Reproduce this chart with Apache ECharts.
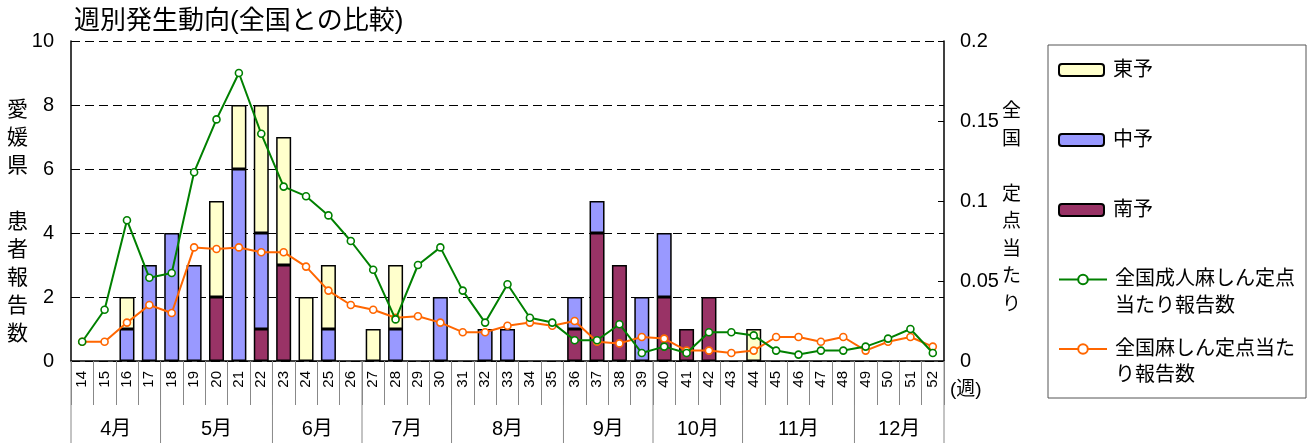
<!DOCTYPE html>
<html>
<head>
<meta charset="utf-8">
<script src="https://cdn.jsdelivr.net/npm/echarts@6/dist/echarts.min.js"></script>
<style>
html,body{margin:0;padding:0;background:#fff;}
#chart{width:1313px;height:443px;}
</style>
</head>
<body>
<div id="chart"></div>
<script>
// ---- data ----
const weeks = ['14','15','16','17','18','19','20','21','22','23','24','25','26','27','28','29','30','31','32','33','34','35','36','37','38','39','40','41','42','43','44','45','46','47','48','49','50','51','52'];
const months = ['4月','5月','6月','7月','8月','9月','10月','11月','12月'];
const monthFirstWeek = ['14','18','23','27','31','36','40','44','49'];
const monthLastWeek  = ['17','22','26','30','35','39','43','48','52'];

// 愛媛県 patients per week (weeks 14..52)
const toyo  = [0,0,1,0,0,0,3,2,4,4,2,2,0,1,2,0,0,0,0,0,0,0,0,0,0,0,0,0,0,0,1,0,0,0,0,0,0,0,0];
const chuyo = [0,0,1,3,4,3,0,6,3,0,0,1,0,0,1,0,2,0,1,1,0,0,1,1,0,2,2,0,0,0,0,0,0,0,0,0,0,0,0];
const nanyo = [0,0,0,0,0,0,2,0,1,3,0,0,0,0,0,0,0,0,0,0,0,0,1,4,3,0,2,1,2,0,0,0,0,0,0,0,0,0,0];

// national per-sentinel reports
const adultNational = [0.012,0.032,0.088,0.052,0.055,0.118,0.151,0.180,0.142,0.109,0.103,0.091,0.075,0.057,0.026,0.060,0.071,0.044,0.024,0.048,0.027,0.024,0.013,0.013,0.023,0.005,0.009,0.005,0.018,0.018,0.016,0.0065,0.004,0.0065,0.0065,0.009,0.014,0.020,0.005];
const allNational   = [0.012,0.012,0.024,0.035,0.030,0.071,0.070,0.071,0.068,0.068,0.059,0.044,0.035,0.032,0.027,0.028,0.024,0.018,0.018,0.022,0.024,0.022,0.025,0.012,0.011,0.015,0.014,0.0065,0.0065,0.005,0.0065,0.015,0.015,0.012,0.015,0.0065,0.012,0.015,0.009];

const leftAxisName = ['愛','媛','県','','患','者','報','告','数'];
const rightAxisName = ['全','国','','定','点','当','た','り'];
const legendLabels = {
  '全国成人麻しん定点当たり報告数': ['全国成人麻しん定点', '当たり報告数'],
  '全国麻しん定点当たり報告数': ['全国麻しん定点当た', 'り報告数']
};

const FONT = "'Liberation Sans', 'Noto Sans CJK JP', sans-serif";
const blankZero = arr => arr.map(v => v === 0 ? '-' : v);
const monthData = monthFirstWeek.map((w, i) => [weeks.indexOf(w), 0, weeks.indexOf(monthLastWeek[i])]);
const vertical = chars => '{g| }\n' + chars.map(c => '{c|' + (c || ' ') + '}').join('\n');

const barBase = {
  type: 'bar', stack: 'pref', barWidth: 15, yAxisIndex: 0,
  emphasis: {disabled: true}
};

const chart = echarts.init(document.getElementById('chart'), null, {renderer: 'canvas'});
chart.setOption({
  animation: false,
  textStyle: {fontFamily: FONT, color: '#000'},
  title: {
    text: '週別発生動向(全国との比較)', left: 74, top: 7, padding: 0,
    textStyle: {fontFamily: FONT, fontSize: 26, fontWeight: 'normal', color: '#000', lineHeight: 29}
  },
  grid: {left: 71, right: 369, top: 41, bottom: 82},
  legend: [
    {
      data: ['東予','中予','南予'], orient: 'vertical', left: 1048, top: 45,
      padding: [13, 153, 176, 10], itemWidth: 45, itemHeight: 12, itemGap: 46,
      borderColor: '#555', borderWidth: 1, selectedMode: false,
      textStyle: {fontFamily: FONT, fontSize: 20, lineHeight: 24, color: '#000', padding: [0,0,0,4]}
    },
    {
      data: ['全国成人麻しん定点当たり報告数'], orient: 'vertical', left: 1048, top: 239,
      padding: [0, 0, 0, 10], itemWidth: 48, itemHeight: 12, selectedMode: false,
      formatter: n => '\n' + legendLabels[n].join('\n'),
      textStyle: {fontFamily: FONT, fontSize: 20, lineHeight: 27, color: '#000', padding: [0,0,0,3]}
    },
    {
      data: ['全国麻しん定点当たり報告数'], orient: 'vertical', left: 1048, top: 310,
      padding: [0, 0, 0, 10], itemWidth: 48, itemHeight: 12, selectedMode: false,
      formatter: n => '\n' + legendLabels[n].join('\n'),
      textStyle: {fontFamily: FONT, fontSize: 20, lineHeight: 26, color: '#000', padding: [0,0,0,3]}
    }
  ],
  xAxis: {
    type: 'category', data: weeks, boundaryGap: true,
    name: '{g| }\n{w|(週)}', nameLocation: 'end', nameGap: 6, nameMoveOverlap: false,
    nameTextStyle: {fontFamily: FONT, color: '#000',
      rich: {g: {height: 58, lineHeight: 58, fontSize: 10}, w: {fontSize: 19, lineHeight: 22, fontFamily: FONT}}},
    axisLine: {lineStyle: {color: '#000', width: 1.5}},
    axisTick: {show: true, interval: 0, length: 44, lineStyle: {color: '#888', width: 1}},
    axisLabel: {interval: 0, rotate: 90, margin: 10, fontSize: 15, color: '#000', fontFamily: FONT}
  },
  yAxis: [
    {
      type: 'value', min: 0, max: 10, interval: 2, position: 'left',
      name: vertical(leftAxisName), nameLocation: 'middle', nameRotate: 0, nameGap: 43, nameMoveOverlap: false,
      nameTextStyle: {fontFamily: FONT, color: '#000',
        rich: {g: {height: 42, lineHeight: 42, fontSize: 10}, c: {fontSize: 21, lineHeight: 28, fontFamily: FONT}}},
      axisLine: {show: true, lineStyle: {color: '#000', width: 1.5}},
      axisTick: {show: true, inside: true, length: 6, lineStyle: {color: '#000'}},
      axisLabel: {fontSize: 20, margin: 17, color: '#000', fontFamily: FONT},
      splitLine: {show: true, lineStyle: {color: '#000', width: 1, type: [9, 5]}}
    },
    {
      type: 'value', min: 0, max: 0.2, interval: 0.05, position: 'right',
      name: vertical(rightAxisName), nameLocation: 'middle', nameRotate: 0, nameGap: 58, nameMoveOverlap: false,
      nameTextStyle: {fontFamily: FONT, color: '#000',
        rich: {g: {height: 15, lineHeight: 15, fontSize: 8}, c: {fontSize: 19, lineHeight: 27.5, fontFamily: FONT}}},
      axisLine: {show: true, lineStyle: {color: '#000', width: 1.5}},
      axisTick: {show: true, inside: true, length: 6, lineStyle: {color: '#000'}},
      axisLabel: {fontSize: 20, margin: 16, color: '#000', fontFamily: FONT},
      splitLine: {show: false}
    }
  ],
  series: [
    Object.assign({}, barBase, {name: '南予', data: blankZero(nanyo),
      itemStyle: {color: '#993366', borderColor: '#000', borderWidth: 1.5}}),
    Object.assign({}, barBase, {name: '中予', data: blankZero(chuyo),
      itemStyle: {color: '#9999FF', borderColor: '#000', borderWidth: 1.5}}),
    Object.assign({}, barBase, {name: '東予', data: blankZero(toyo),
      itemStyle: {color: '#FFFFCC', borderColor: '#000', borderWidth: 1.5}}),
    {
      name: '全国麻しん定点当たり報告数', type: 'line', yAxisIndex: 1, data: allNational,
      symbol: 'circle', symbolSize: 7, z: 3,
      lineStyle: {color: '#FF6600', width: 2},
      itemStyle: {color: '#FFFFFF', borderColor: '#FF6600', borderWidth: 1.6},
      emphasis: {disabled: true}
    },
    {
      name: '全国成人麻しん定点当たり報告数', type: 'line', yAxisIndex: 1, data: adultNational,
      symbol: 'circle', symbolSize: 7, z: 4,
      lineStyle: {color: '#008000', width: 2},
      itemStyle: {color: '#FFFFFF', borderColor: '#008000', borderWidth: 1.6},
      emphasis: {disabled: true}
    },
    {
      type: 'custom', name: 'months', data: monthData, encode: {x: 0, y: 1}, clip: false, silent: true,
      renderItem: function (params, api) {
        const p0 = api.coord([api.value(0), 0]);
        const p1 = api.coord([api.value(2), 0]);
        const half = api.size([1, 0])[0] / 2;
        const xL = p0[0] - half, xR = p1[0] + half, y = p0[1];
        const children = [
          {type: 'line', shape: {x1: xR, y1: y, x2: xR, y2: y + 82}, style: {stroke: '#888', lineWidth: 1}},
          {type: 'text', x: (xL + xR) / 2, y: y + 68,
           style: {text: months[params.dataIndex], fontFamily: FONT, fontSize: 20, fill: '#000', align: 'center', verticalAlign: 'middle'}}
        ];
        if (params.dataIndex === 0) {
          children.push({type: 'line', shape: {x1: xL, y1: y, x2: xL, y2: y + 82}, style: {stroke: '#888', lineWidth: 1}});
        }
        return {type: 'group', children: children};
      }
    }
  ]
});
</script>
</body>
</html>
